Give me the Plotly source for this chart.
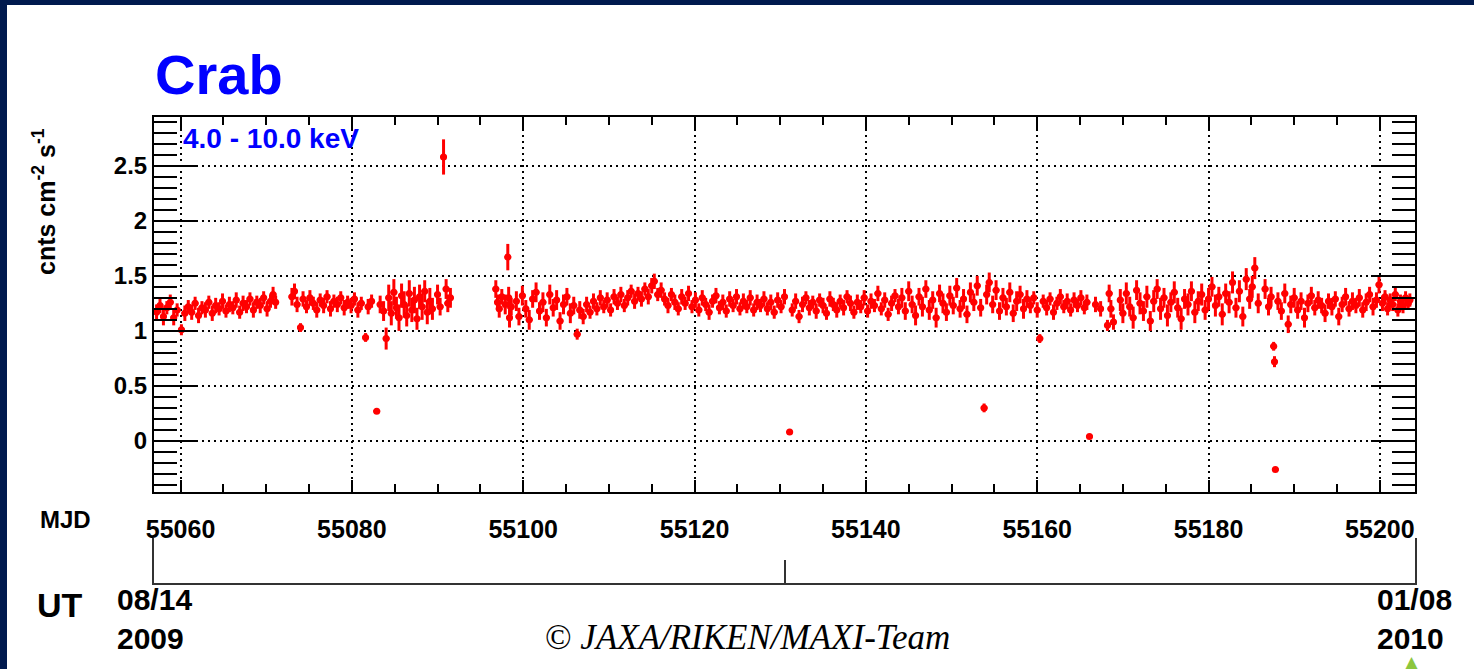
import plotly.graph_objects as go

# ---------------- data: MAXI Crab light curve, 4.0-10.0 keV ----------------
# each segment: (MJD, rate [cnts cm^-2 s^-1], 1-sigma error)
seg_aug_a = [
    (55057.2, 1.17, 0.07), (55057.6, 1.23, 0.07), (55058.0, 1.13, 0.08), (55058.4, 1.21, 0.06),
    (55058.8, 1.26, 0.07), (55059.2, 1.12, 0.07), (55059.6, 1.19, 0.06), (55060.1, 1.01, 0.05),
    (55060.5, 1.16, 0.07), (55060.9, 1.22, 0.06), (55061.3, 1.17, 0.07), (55061.7, 1.25, 0.06),
    (55062.1, 1.14, 0.07), (55062.5, 1.21, 0.06), (55062.9, 1.19, 0.07), (55063.3, 1.26, 0.06),
    (55063.7, 1.16, 0.07), (55064.1, 1.23, 0.07), (55064.5, 1.20, 0.06), (55064.9, 1.27, 0.07),
    (55065.3, 1.18, 0.06), (55065.7, 1.24, 0.07), (55066.1, 1.21, 0.06), (55066.5, 1.28, 0.07),
    (55066.9, 1.17, 0.06), (55067.3, 1.25, 0.07), (55067.7, 1.22, 0.06), (55068.1, 1.29, 0.06),
    (55068.5, 1.19, 0.07), (55068.9, 1.26, 0.06), (55069.3, 1.23, 0.07), (55069.7, 1.30, 0.06),
    (55070.1, 1.20, 0.07), (55070.5, 1.27, 0.06), (55070.8, 1.33, 0.07), (55071.1, 1.26, 0.06),
]
seg_aug_b = [
    (55073.0, 1.31, 0.08), (55073.3, 1.36, 0.07), (55073.6, 1.24, 0.07), (55074.0, 1.03, 0.04),
    (55074.3, 1.29, 0.07), (55074.7, 1.22, 0.06), (55075.1, 1.30, 0.07), (55075.5, 1.25, 0.06),
    (55075.9, 1.19, 0.07), (55076.3, 1.28, 0.06), (55076.7, 1.23, 0.07), (55077.1, 1.31, 0.06),
    (55077.5, 1.20, 0.07), (55077.9, 1.27, 0.06), (55078.3, 1.24, 0.07), (55078.7, 1.30, 0.06),
    (55079.1, 1.21, 0.07), (55079.5, 1.26, 0.06), (55079.9, 1.23, 0.07), (55080.3, 1.29, 0.06),
    (55080.7, 1.19, 0.07), (55081.1, 1.25, 0.06), (55081.6, 0.94, 0.04), (55081.9, 1.22, 0.07),
    (55082.3, 1.27, 0.06), (55082.9, 0.27, 0.02), (55083.3, 1.24, 0.08), (55083.7, 1.18, 0.09),
    (55084.0, 0.93, 0.10), (55084.3, 1.30, 0.12), (55084.6, 1.16, 0.11), (55084.9, 1.35, 0.12),
    (55085.2, 1.21, 0.10), (55085.5, 1.12, 0.12), (55085.8, 1.32, 0.11), (55086.1, 1.24, 0.12),
    (55086.4, 1.14, 0.10), (55086.7, 1.34, 0.12), (55087.0, 1.19, 0.11), (55087.3, 1.28, 0.12),
    (55087.6, 1.11, 0.10), (55087.9, 1.31, 0.11), (55088.2, 1.22, 0.12), (55088.5, 1.36, 0.10),
    (55088.8, 1.17, 0.11), (55089.1, 1.27, 0.12), (55089.4, 1.20, 0.10),
]
seg_sep_a = [
    (55090.0, 1.33, 0.09), (55090.3, 1.22, 0.08), (55090.7, 2.58, 0.16), (55091.0, 1.38, 0.09),
    (55091.2, 1.25, 0.08), (55091.5, 1.30, 0.09),
    (55096.8, 1.38, 0.08), (55097.0, 1.26, 0.07), (55097.2, 1.20, 0.08), (55097.5, 1.31, 0.07),
    (55097.9, 1.24, 0.09), (55098.2, 1.67, 0.12), (55098.3, 1.30, 0.10), (55098.4, 1.12, 0.09),
    (55098.6, 1.22, 0.08),
]
seg_sep_b = [
    (55099.2, 1.27, 0.09), (55099.5, 1.13, 0.08), (55099.9, 1.32, 0.09), (55100.3, 1.20, 0.08),
    (55100.7, 1.10, 0.09), (55101.1, 1.29, 0.08), (55101.5, 1.35, 0.09), (55101.9, 1.18, 0.08),
    (55102.3, 1.26, 0.09), (55102.7, 1.12, 0.08), (55103.1, 1.33, 0.09), (55103.5, 1.21, 0.08),
    (55103.9, 1.28, 0.09), (55104.3, 1.09, 0.08), (55104.7, 1.24, 0.09), (55105.1, 1.31, 0.08),
    (55105.5, 1.16, 0.09), (55105.9, 1.23, 0.08), (55106.3, 0.97, 0.05), (55106.6, 1.19, 0.08),
    (55107.0, 1.13, 0.07), (55107.4, 1.24, 0.07), (55107.8, 1.17, 0.06), (55108.2, 1.27, 0.07),
    (55108.6, 1.20, 0.06), (55109.0, 1.30, 0.07), (55109.4, 1.22, 0.06), (55109.8, 1.28, 0.07),
    (55110.2, 1.19, 0.06), (55110.6, 1.31, 0.07), (55111.0, 1.25, 0.06), (55111.4, 1.33, 0.07),
    (55111.8, 1.23, 0.06), (55112.2, 1.30, 0.07), (55112.6, 1.36, 0.06), (55113.0, 1.27, 0.07),
    (55113.4, 1.34, 0.06), (55113.8, 1.29, 0.07), (55114.2, 1.38, 0.06), (55114.6, 1.31, 0.07),
    (55115.0, 1.41, 0.07), (55115.3, 1.45, 0.07), (55115.7, 1.33, 0.06),
]
seg_oct = [
    (55116.1, 1.37, 0.07), (55116.5, 1.29, 0.06), (55116.9, 1.23, 0.07), (55117.3, 1.33, 0.06),
    (55117.7, 1.26, 0.07), (55118.1, 1.20, 0.06), (55118.5, 1.31, 0.07), (55118.9, 1.25, 0.06),
    (55119.3, 1.34, 0.07), (55119.7, 1.22, 0.06), (55120.1, 1.28, 0.07), (55120.5, 1.19, 0.06),
    (55120.9, 1.30, 0.07), (55121.3, 1.24, 0.06), (55121.7, 1.17, 0.07), (55122.1, 1.27, 0.06),
    (55122.5, 1.32, 0.07), (55122.9, 1.21, 0.06), (55123.3, 1.26, 0.07), (55123.7, 1.18, 0.06),
    (55124.1, 1.29, 0.07), (55124.5, 1.23, 0.06), (55124.9, 1.31, 0.07), (55125.3, 1.20, 0.06),
    (55125.7, 1.27, 0.07), (55126.1, 1.22, 0.06), (55126.5, 1.30, 0.07), (55126.9, 1.19, 0.06),
    (55127.3, 1.26, 0.07), (55127.7, 1.23, 0.06),
    (55128.1, 1.29, 0.07), (55128.5, 1.20, 0.06), (55128.9, 1.26, 0.07), (55129.3, 1.17, 0.06),
    (55129.7, 1.28, 0.07), (55130.1, 1.22, 0.06), (55130.5, 1.31, 0.07), (55131.1, 0.08, 0.02),
    (55131.4, 1.19, 0.06), (55131.8, 1.27, 0.07), (55132.2, 1.13, 0.06), (55132.6, 1.24, 0.07),
    (55133.0, 1.30, 0.06), (55133.4, 1.21, 0.07), (55133.8, 1.26, 0.06), (55134.2, 1.18, 0.07),
    (55134.6, 1.28, 0.06), (55135.0, 1.23, 0.07), (55135.4, 1.16, 0.06), (55135.8, 1.29, 0.07),
    (55136.2, 1.24, 0.06), (55136.6, 1.19, 0.07), (55137.0, 1.27, 0.06), (55137.4, 1.21, 0.07),
    (55137.8, 1.31, 0.06), (55138.2, 1.25, 0.07), (55138.6, 1.17, 0.06), (55139.0, 1.26, 0.07),
    (55139.4, 1.22, 0.06), (55139.8, 1.30, 0.07), (55140.2, 1.18, 0.06), (55140.6, 1.27, 0.07),
    (55141.0, 1.23, 0.06), (55141.4, 1.34, 0.07), (55141.8, 1.20, 0.06), (55142.2, 1.28, 0.07),
    (55142.6, 1.15, 0.06), (55143.0, 1.25, 0.07), (55143.4, 1.32, 0.06), (55143.8, 1.22, 0.07),
]
seg_nov = [
    (55144.2, 1.30, 0.09), (55144.6, 1.18, 0.08), (55145.0, 1.36, 0.09), (55145.4, 1.24, 0.08),
    (55145.8, 1.14, 0.09), (55146.2, 1.31, 0.08), (55146.6, 1.22, 0.09), (55147.0, 1.38, 0.08),
    (55147.4, 1.19, 0.09), (55147.8, 1.28, 0.08), (55148.2, 1.12, 0.09), (55148.6, 1.34, 0.08),
    (55149.0, 1.25, 0.09), (55149.4, 1.17, 0.08), (55149.8, 1.32, 0.09), (55150.2, 1.23, 0.08),
    (55150.6, 1.39, 0.09), (55151.0, 1.20, 0.08), (55151.4, 1.29, 0.09), (55151.8, 1.15, 0.08),
    (55152.2, 1.35, 0.09), (55152.6, 1.26, 0.08), (55153.0, 1.41, 0.09), (55153.4, 1.21, 0.08),
    (55153.8, 0.30, 0.04), (55154.1, 1.33, 0.09), (55154.4, 1.44, 0.09), (55154.8, 1.24, 0.08),
    (55155.2, 1.37, 0.09), (55155.6, 1.18, 0.08), (55156.0, 1.30, 0.09), (55156.4, 1.22, 0.08),
    (55156.8, 1.35, 0.09), (55157.2, 1.16, 0.08), (55157.6, 1.27, 0.09), (55158.0, 1.33, 0.08),
    (55158.4, 1.20, 0.09), (55158.8, 1.29, 0.08),
    (55159.2, 1.23, 0.07), (55159.6, 1.30, 0.06), (55160.0, 1.19, 0.07), (55160.3, 0.93, 0.04),
    (55160.7, 1.27, 0.06), (55161.1, 1.21, 0.07), (55161.5, 1.29, 0.06), (55161.9, 1.17, 0.07),
    (55162.3, 1.25, 0.06), (55162.7, 1.31, 0.07), (55163.1, 1.22, 0.06), (55163.5, 1.27, 0.07),
    (55163.9, 1.19, 0.06), (55164.3, 1.28, 0.07), (55164.7, 1.23, 0.06), (55165.1, 1.30, 0.07),
    (55165.5, 1.21, 0.06), (55165.8, 1.26, 0.07), (55166.1, 0.04, 0.02),
    (55166.8, 1.24, 0.07), (55167.4, 1.20, 0.07), (55168.2, 1.05, 0.05), (55168.4, 1.34, 0.08),
    (55168.6, 1.20, 0.08), (55168.9, 1.08, 0.07),
]
seg_dec = [
    (55169.7, 1.28, 0.10), (55170.0, 1.16, 0.09), (55170.4, 1.34, 0.10), (55170.8, 1.22, 0.09),
    (55171.2, 1.12, 0.10), (55171.6, 1.37, 0.09), (55172.0, 1.25, 0.10), (55172.4, 1.18, 0.09),
    (55172.8, 1.31, 0.10), (55173.2, 1.09, 0.09), (55173.6, 1.27, 0.10), (55174.0, 1.38, 0.09),
    (55174.4, 1.20, 0.10), (55174.8, 1.30, 0.09), (55175.2, 1.14, 0.10), (55175.6, 1.26, 0.09),
    (55176.0, 1.35, 0.10), (55176.4, 1.21, 0.09), (55176.8, 1.11, 0.10), (55177.2, 1.29, 0.09),
    (55177.6, 1.24, 0.10), (55178.0, 1.36, 0.09), (55178.4, 1.17, 0.10), (55178.8, 1.27, 0.09),
    (55179.2, 1.33, 0.10), (55179.6, 1.19, 0.09), (55180.0, 1.29, 0.10), (55180.4, 1.40, 0.09),
    (55180.8, 1.23, 0.10), (55181.2, 1.31, 0.09), (55181.6, 1.15, 0.10), (55182.0, 1.34, 0.09),
    (55182.4, 1.26, 0.10), (55182.8, 1.44, 0.10), (55183.2, 1.21, 0.09), (55183.6, 1.36, 0.10),
    (55184.0, 1.13, 0.09), (55184.4, 1.47, 0.10), (55184.8, 1.29, 0.09), (55185.1, 1.40, 0.10),
    (55185.4, 1.57, 0.10), (55185.8, 1.25, 0.09),
    (55186.6, 1.38, 0.09), (55187.0, 1.22, 0.08), (55187.3, 1.31, 0.09),
    (55187.6, 0.86, 0.04), (55187.7, 0.72, 0.05), (55187.8, -0.26, 0.02),
    (55188.1, 1.27, 0.08), (55188.5, 1.18, 0.08), (55188.9, 1.34, 0.09), (55189.3, 1.06, 0.08),
    (55189.6, 1.24, 0.08), (55190.0, 1.30, 0.09), (55190.4, 1.19, 0.08), (55190.8, 1.27, 0.08),
    (55191.2, 1.12, 0.09), (55191.6, 1.25, 0.08), (55192.0, 1.32, 0.08), (55192.4, 1.21, 0.07),
    (55192.8, 1.28, 0.08), (55193.2, 1.23, 0.07), (55193.6, 1.16, 0.08), (55194.0, 1.27, 0.07),
    (55194.4, 1.22, 0.08), (55194.8, 1.29, 0.07), (55195.2, 1.13, 0.08), (55195.6, 1.24, 0.07),
    (55196.0, 1.31, 0.08), (55196.4, 1.20, 0.07), (55196.8, 1.27, 0.08), (55197.2, 1.23, 0.07),
    (55197.6, 1.30, 0.08), (55198.0, 1.19, 0.07), (55198.4, 1.26, 0.08), (55198.8, 1.33, 0.07),
    (55199.2, 1.22, 0.08), (55199.6, 1.28, 0.07), (55199.9, 1.42, 0.08),
]
seg_jan = [
    (55200.3, 1.25, 0.07), (55200.6, 1.31, 0.06), (55200.9, 1.20, 0.06), (55201.2, 1.28, 0.06),
    (55201.5, 1.24, 0.06), (55201.8, 1.33, 0.06), (55202.1, 1.19, 0.06), (55202.4, 1.27, 0.06),
    (55202.7, 1.22, 0.06), (55203.0, 1.30, 0.06), (55203.3, 1.25, 0.06), (55203.5, 1.28, 0.06),
]

# axis ranges / ticks (MJD and UT)
mjd_range = [55056.9, 55204.1]
rate_range = [-0.464, 2.943]
ut_tick_mjd = [55057, 55204]
ut_tick_text = ["08/14<br>2009", "01/08<br>2010"]
ut_mid_mjd = [55130.5]

segments = [seg_aug_a, seg_aug_b, seg_sep_a, seg_sep_b, seg_oct, seg_nov, seg_dec, seg_jan]
mjd = [p[0] for s in segments for p in s]
rate = [p[1] for s in segments for p in s]
rate_err = [p[2] for s in segments for p in s]

# ---------------- layout helpers (pixel -> paper) ----------------
W, H = 1474, 669
L, R, T, B = 154, 1415, 117, 583
FRAME_BOTTOM = 492
UT_TICK_TOP = 538


def px(x):
    return (x - L) / (R - L)


def py(y):
    return (B - y) / (B - T)


SANS = "Liberation Sans"
NAVY = "#001a4e"
UT_GREY = "#333333"

fig = go.Figure()
fig.add_trace(go.Scatter(
    x=mjd, y=rate, mode="markers",
    marker=dict(color="#ff0000", size=7, line=dict(width=0)),
    error_y=dict(type="data", array=rate_err, color="#ff0000", thickness=3, width=0),
    error_x=dict(type="constant", value=0.4, color="#ff0000", thickness=2.5, width=0),
    xaxis="x", yaxis="y", showlegend=False, hoverinfo="x+y",
))
# invisible anchor trace so the UT axis subplot is drawn
fig.add_trace(go.Scatter(
    x=ut_tick_mjd, y=[0.5, 0.5], mode="markers", marker=dict(opacity=0),
    xaxis="x2", yaxis="y2", showlegend=False, hoverinfo="skip",
))

axis_font_x = dict(family=SANS, size=25, color="black", weight="bold")
axis_font_y = dict(family=SANS, size=24, color="black", weight="bold")

fig.update_layout(
    width=W, height=H, autosize=False,
    margin=dict(l=L, r=W - R, t=T, b=H - B, pad=0, autoexpand=False),
    paper_bgcolor="white", plot_bgcolor="white",
    showlegend=False,
    xaxis=dict(
        range=mjd_range, anchor="y", domain=[0, 1], automargin=False,
        tickmode="linear", tick0=55060, dtick=20, tickformat="d",
        ticks="inside", ticklen=12, tickwidth=2, tickcolor="black",
        minor=dict(tick0=55060, dtick=5, ticks="inside", ticklen=8, tickwidth=2,
                   tickcolor="black", showgrid=False),
        mirror="allticks", showline=True, linewidth=2, linecolor="black",
        showgrid=True, gridcolor="black", gridwidth=1.5, griddash="2px,4px",
        zeroline=False, tickfont=axis_font_x, ticklabelstandoff=14,
    ),
    yaxis=dict(
        range=rate_range, anchor="x", domain=[py(FRAME_BOTTOM), 1], automargin=False,
        tickmode="linear", tick0=0, dtick=0.5,
        ticks="inside", ticklen=44, tickwidth=2, tickcolor="black",
        minor=dict(tick0=0, dtick=0.1, ticks="inside", ticklen=23, tickwidth=2,
                   tickcolor="black", showgrid=False),
        mirror="allticks", showline=True, linewidth=2, linecolor="black",
        showgrid=True, gridcolor="black", gridwidth=1.5, griddash="2px,4px",
        zeroline=False, tickfont=axis_font_y, ticklabelstandoff=0,
    ),
    xaxis2=dict(
        range=mjd_range, anchor="y2", domain=[0, 1], automargin=False,
        tickmode="array", tickvals=ut_tick_mjd, showticklabels=False,
        ticks="inside", ticklen=45, tickwidth=2, tickcolor=UT_GREY,
        minor=dict(tickmode="array", tickvals=ut_mid_mjd, ticks="inside", ticklen=23,
                   tickwidth=2, tickcolor=UT_GREY, showgrid=False),
        showline=True, linewidth=2, linecolor=UT_GREY,
        showgrid=False, zeroline=False,
    ),
    # the UT axis end ticks are the side lines of this thin strip
    yaxis2=dict(range=[0, 1], domain=[0, py(UT_TICK_TOP)], anchor="x2", automargin=False,
                showgrid=False, showline=True, mirror=True, linewidth=2, linecolor=UT_GREY,
                showticklabels=False, ticks="", zeroline=False),
)

annotations = [
    dict(text="<b>Crab</b>", x=px(153), y=py(74), xanchor="left", yanchor="middle",
         font=dict(family=SANS, size=56, color="#0000ff")),
    dict(text="<b>4.0 - 10.0 keV</b>", x=px(181), y=py(138), xanchor="left", yanchor="middle",
         font=dict(family=SANS, size=28, color="#0000ff")),
    dict(text="<b>cnts cm<sup>-2</sup> s<sup>-1</sup></b>", x=px(44), y=py(202),
         xanchor="center", yanchor="middle", textangle=-90,
         font=dict(family=SANS, size=25, color="black")),
    dict(text="<b>MJD</b>", x=px(65), y=py(519), xanchor="center", yanchor="middle",
         font=dict(family=SANS, size=24, color="black")),
    dict(text="<b>UT</b>", x=px(60), y=py(605), xanchor="center", yanchor="middle",
         font=dict(family=SANS, size=34, color="black")),
    dict(text="© <i>JAXA/RIKEN/MAXI-Team</i>", x=px(747), y=py(637), xanchor="center",
         yanchor="middle", font=dict(family="Liberation Serif", size=35, color="black")),
    dict(text="▲", x=px(1412), y=py(662), xanchor="center", yanchor="middle",
         font=dict(family="DejaVu Sans", size=17, color="#8cc63f")),
]
for a in annotations:
    a.update(xref="paper", yref="paper", showarrow=False)
# UT date labels at the ends of the UT axis
for t, txt in zip(ut_tick_mjd, ut_tick_text):
    annotations.append(dict(
        text="<b>" + txt.replace("<br>", "</b><br><b>") + "</b>",
        x=t, xref="x2", y=py(619), yref="paper", xanchor="center", yanchor="middle",
        align="left", showarrow=False,
        font=dict(family=SANS, size=30, color="black"),
    ))
fig.update_layout(annotations=annotations)

# navy page border (left and top strips)
fig.update_layout(shapes=[
    dict(type="rect", xref="paper", yref="paper", x0=px(0), x1=px(7), y0=py(H), y1=py(0),
         fillcolor=NAVY, line=dict(width=0), layer="below"),
    dict(type="rect", xref="paper", yref="paper", x0=px(0), x1=px(W), y0=py(5), y1=py(0),
         fillcolor=NAVY, line=dict(width=0), layer="below"),
])

fig.write_html(
    "out.html",
    config={"displayModeBar": False},
    post_script="document.body.style.margin='0';document.body.style.overflow='hidden';",
)
